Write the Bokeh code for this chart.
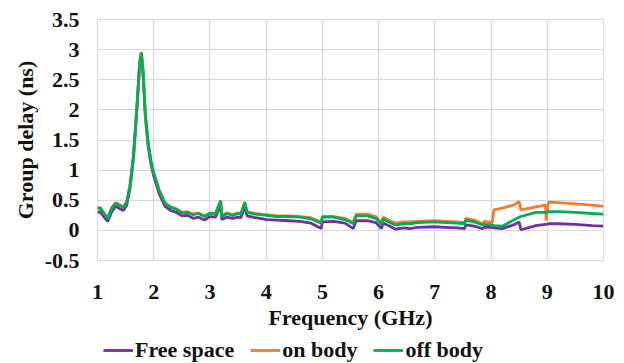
from bokeh.plotting import figure
from bokeh.models import Legend, LegendItem, FixedTicker
from bokeh.layouts import column
from bokeh.embed import file_html
from bokeh.resources import INLINE

freq = [1.00, 1.05, 1.10, 1.18, 1.25, 1.32, 1.40, 1.46, 1.52, 1.58, 1.64, 1.70, 1.75, 1.78, 1.81,
        1.85, 1.90, 1.95, 2.00, 2.10, 2.20, 2.30, 2.40, 2.50, 2.60, 2.70, 2.80, 2.90, 3.00, 3.10,
        3.19, 3.21, 3.30, 3.40, 3.50, 3.55, 3.62, 3.66, 3.80, 3.90, 4.00, 4.20, 4.40, 4.60, 4.80,
        4.98, 5.00, 5.20, 5.40, 5.55, 5.60, 5.80, 5.95, 6.05, 6.08, 6.20, 6.30, 6.45, 6.55, 6.70,
        7.00, 7.20, 7.40, 7.53, 7.55, 7.70, 7.85, 7.88, 8.02, 8.05, 8.20, 8.40, 8.50, 8.53, 8.80,
        8.97, 8.98, 9.02, 9.20, 9.50, 9.80, 10.00]

free_space = [0.30, 0.31, 0.24, 0.15, 0.30, 0.40, 0.36, 0.33, 0.42, 0.70, 1.20, 2.00, 2.75, 2.92, 2.60,
              1.90, 1.40, 1.10, 0.90, 0.60, 0.40, 0.33, 0.30, 0.24, 0.25, 0.20, 0.22, 0.17, 0.23, 0.22,
              0.43, 0.18, 0.22, 0.20, 0.22, 0.21, 0.40, 0.24, 0.21, 0.20, 0.18, 0.17, 0.16, 0.15, 0.12,
              0.03, 0.14, 0.15, 0.12, 0.03, 0.16, 0.16, 0.13, 0.03, 0.12, 0.07, 0.02, 0.04, 0.03, 0.05,
              0.06, 0.05, 0.04, 0.03, 0.09, 0.07, 0.03, 0.05, 0.05, 0.04, 0.03, 0.09, 0.14, 0.01, 0.08,
              0.10, 0.10, 0.11, 0.11, 0.10, 0.08, 0.07]

on_body = [0.37, 0.38, 0.31, 0.21, 0.37, 0.46, 0.42, 0.39, 0.48, 0.76, 1.25, 2.04, 2.80, 2.96, 2.66,
           1.96, 1.46, 1.16, 0.96, 0.66, 0.46, 0.39, 0.36, 0.30, 0.31, 0.27, 0.29, 0.24, 0.29, 0.28,
           0.50, 0.24, 0.29, 0.26, 0.29, 0.28, 0.47, 0.31, 0.28, 0.27, 0.26, 0.24, 0.24, 0.23, 0.21,
           0.14, 0.23, 0.23, 0.20, 0.13, 0.27, 0.27, 0.23, 0.12, 0.22, 0.16, 0.12, 0.14, 0.14, 0.15,
           0.16, 0.15, 0.14, 0.13, 0.20, 0.17, 0.11, 0.15, 0.13, 0.34, 0.37, 0.42, 0.48, 0.34, 0.39,
           0.42, 0.16, 0.47, 0.46, 0.44, 0.42, 0.40]

off_body = [0.36, 0.37, 0.30, 0.20, 0.36, 0.45, 0.41, 0.38, 0.47, 0.75, 1.24, 2.03, 2.78, 2.95, 2.65,
            1.95, 1.45, 1.15, 0.95, 0.65, 0.45, 0.38, 0.35, 0.29, 0.30, 0.26, 0.28, 0.23, 0.28, 0.27,
            0.49, 0.23, 0.28, 0.25, 0.28, 0.27, 0.46, 0.30, 0.27, 0.26, 0.25, 0.23, 0.23, 0.22, 0.19,
            0.12, 0.22, 0.22, 0.18, 0.11, 0.24, 0.24, 0.20, 0.10, 0.19, 0.13, 0.09, 0.11, 0.11, 0.13,
            0.14, 0.13, 0.12, 0.11, 0.17, 0.14, 0.09, 0.10, 0.09, 0.08, 0.07, 0.17, 0.22, 0.23, 0.30,
            0.30, 0.30, 0.31, 0.31, 0.30, 0.28, 0.27]

series_names = ["Free space", "on body", "off body"]
series_colors = ["#7030A0", "#ED7D31", "#00B050"]
x_ticks = [1, 2, 3, 4, 5, 6, 7, 8, 9, 10]
y_ticks = [-0.5, 0, 0.5, 1, 1.5, 2, 2.5, 3, 3.5]
y_tick_labels = ["-0.5", "0", "0.5", "1", "1.5", "2", "2.5", "3", "3.5"]

FONT = "Liberation Serif"
TXT = "#111111"
FS = "22px"
LW = 2.8

p = figure(width=624, height=336, x_range=(1, 10), y_range=(-0.5, 3.5),
           output_backend="svg", toolbar_location=None,
           min_border_left=97, min_border_right=21, min_border_top=19, min_border_bottom=76)
p.outline_line_color = "#d9d9d9"
p.background_fill_color = "white"
p.border_fill_color = "white"

for ys, c in zip([free_space, on_body, off_body], series_colors):
    p.line(freq, ys, line_color=c, line_width=LW)

for ax in (p.xaxis[0], p.yaxis[0]):
    ax.axis_line_color = None
    ax.major_tick_line_color = None
    ax.minor_tick_line_color = None
    ax.major_label_text_font = FONT
    ax.major_label_text_font_style = "bold"
    ax.major_label_text_font_size = FS
    ax.major_label_text_color = TXT
    ax.axis_label_text_font = FONT
    ax.axis_label_text_font_style = "bold"
    ax.axis_label_text_font_size = FS
    ax.axis_label_text_color = TXT

p.xaxis.ticker = FixedTicker(ticks=x_ticks)
p.yaxis.ticker = FixedTicker(ticks=y_ticks)
p.yaxis.major_label_overrides = {t: s for t, s in zip(y_ticks, y_tick_labels)}
p.xaxis.major_label_overrides = {t: str(t) for t in x_ticks}
p.xaxis.axis_label = "Frequency (GHz)"
p.yaxis.axis_label = "Group delay (ns)"
p.xaxis.major_label_standoff = 18
p.yaxis.major_label_standoff = 12
p.xaxis.axis_label_standoff = 3
p.yaxis.axis_label_standoff = 4

p.xgrid.grid_line_color = "#d9d9d9"
p.ygrid.grid_line_color = "#d9d9d9"
p.xgrid.grid_line_width = 1.2
p.ygrid.grid_line_width = 1.2

# legend strip below the chart (its lines hold the same data, kept out of view)
lf = figure(width=624, height=27, output_backend="svg", toolbar_location=None,
            x_range=(100, 101), y_range=(100, 101),
            x_axis_location=None, y_axis_location=None,
            min_border_left=0, min_border_right=0, min_border_top=0, min_border_bottom=0)
lf.outline_line_color = None
lf.xgrid.visible = False
lf.ygrid.visible = False
items = []
for name, ys, c in zip(series_names, [free_space, on_body, off_body], series_colors):
    r = lf.line(freq, ys, line_color=c, line_width=LW)
    items.append(LegendItem(label=name, renderers=[r]))

legend = Legend(items=items, orientation="horizontal", location=(6, 0))
legend.label_text_font = FONT
legend.label_text_font_style = "bold"
legend.label_text_font_size = FS
legend.label_text_color = TXT
legend.glyph_width = 30
legend.glyph_height = 24
legend.label_height = 24
legend.label_standoff = 2
legend.spacing = 16
legend.padding = 0
legend.margin = 0
legend.border_line_color = None
legend.background_fill_alpha = 0
lf.add_layout(legend, "center")

layout = column(p, lf, spacing=0)
open("out.html", "w").write(file_html(layout, INLINE))
